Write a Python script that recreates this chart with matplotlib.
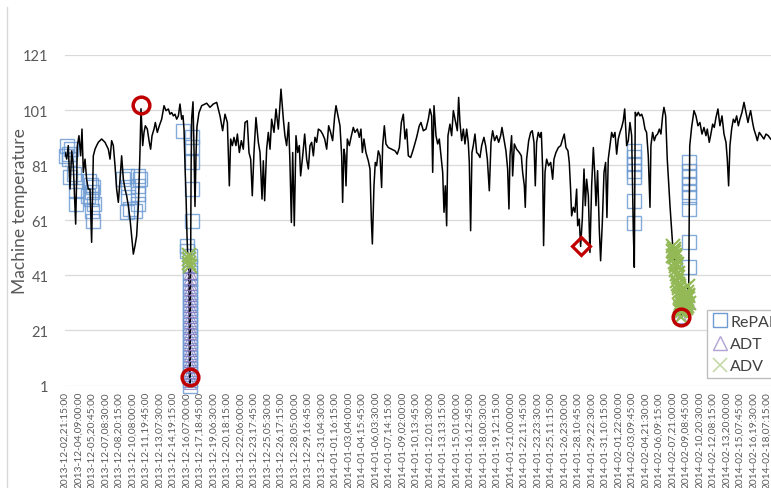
import matplotlib
matplotlib.use("Agg")
import matplotlib.pyplot as plt
from matplotlib.lines import Line2D

plt.rcParams["font.family"] = ["Lato", "DejaVu Sans"]

# sample index (15-minute steps from 2013-12-02 21:15) and machine temperature
line_step = [
    0, 18, 35, 53, 71, 88, 113, 131, 148, 166, 180, 194, 212, 229, 247, 265, 282, 300,
    318, 335, 353, 371, 388, 406, 424, 441, 459, 477, 494, 512, 530, 547, 565, 583, 600,
    618, 636, 653, 671, 689, 706, 724, 742, 759, 777, 794, 805, 823, 837, 851, 872, 893,
    907, 922, 943, 957, 978, 999, 1024, 1049, 1070, 1095, 1112, 1130, 1148, 1165, 1183,
    1201, 1218, 1236, 1250, 1261, 1272, 1282, 1292, 1298, 1305, 1310, 1315, 1319, 1324,
    1330, 1336, 1342, 1356, 1366, 1377, 1388, 1398, 1419, 1448, 1501, 1536, 1571, 1607,
    1624, 1642, 1670, 1695, 1720, 1741, 1755, 1773, 1790, 1811, 1826, 1847, 1868, 1889,
    1907, 1931, 1949, 1967, 1984, 2002, 2023, 2048, 2066, 2087, 2101, 2115, 2136, 2154,
    2172, 2189, 2214, 2235, 2260, 2288, 2313, 2330, 2348, 2369, 2383, 2398, 2412, 2429,
    2447, 2465, 2482, 2496, 2518, 2539, 2560, 2578, 2595, 2613, 2631, 2648, 2666, 2684,
    2708, 2729, 2751, 2772, 2793, 2814, 2835, 2857, 2871, 2892, 2913, 2931, 2941, 2955,
    2966, 2977, 2991, 3012, 3030, 3054, 3072, 3097, 3118, 3135, 3150, 3167, 3188, 3213,
    3231, 3245, 3256, 3273, 3287, 3301, 3319, 3337, 3354, 3365, 3383, 3400, 3425, 3460,
    3496, 3520, 3542, 3563, 3584, 3602, 3619, 3637, 3662, 3690, 3725, 3753, 3771, 3796,
    3824, 3849, 3866, 3884, 3895, 3909, 3930, 3948, 3965, 3983, 4001, 4015, 4029, 4043,
    4057, 4078, 4096, 4114, 4135, 4156, 4170, 4184, 4202, 4220, 4237, 4255, 4272, 4283,
    4297, 4311, 4325, 4343, 4361, 4378, 4396, 4414, 4438, 4456, 4474, 4495, 4513, 4530,
    4551, 4573, 4594, 4615, 4629, 4650, 4671, 4689, 4703, 4714, 4731, 4742, 4760, 4784,
    4813, 4834, 4848, 4866, 4876, 4890, 4912, 4933, 4950, 4968, 4982, 4996, 5014, 5032,
    5046, 5060, 5070, 5085, 5102, 5123, 5145, 5166, 5180, 5201, 5226, 5251, 5272, 5289,
    5307, 5328, 5342, 5356, 5367, 5385, 5402, 5420, 5431, 5448, 5462, 5480, 5498, 5512,
    5526, 5544, 5561, 5579, 5597, 5611, 5625, 5642, 5660, 5674, 5692, 5710, 5727, 5741,
    5755, 5773, 5791, 5808, 5826, 5844, 5861, 5879, 5897, 5914, 5929, 5950, 5967, 5985,
    6003, 6020, 6031, 6041, 6056, 6073, 6091, 6109, 6126, 6144, 6161, 6179, 6197, 6207,
    6225, 6243, 6260, 6278, 6296, 6313, 6331, 6345, 6363, 6380, 6409, 6437, 6445, 6452,
    6459, 6466, 6473, 6480, 6487, 6494, 6501, 6508, 6515, 6522, 6529, 6536, 6543, 6550,
    6557, 6564, 6571, 6578, 6585, 6592, 6599, 6606, 6612, 6618, 6638, 6663, 6684, 6705,
    6726, 6748, 6769, 6790, 6804, 6825, 6839, 6861, 6878, 6896, 6917, 6938, 6960, 6981,
    7002, 7016, 7030, 7044, 7062, 7080, 7097, 7115, 7133, 7150, 7171, 7193, 7214, 7235,
    7249, 7263, 7284, 7298, 7320, 7334, 7355, 7380, 7404, 7426, 7450, 7475,
]
line_temp = [
    85.6, 83.2, 88.1, 72.3, 86.2, 80.8, 59.6, 88.1, 91.7, 84.4, 94.1, 78.4, 83.2, 75.9,
    72.3, 72.3, 53.0, 84.4, 86.8, 88.1, 89.3, 89.9, 90.5, 89.9, 89.3, 88.1, 86.8, 83.2,
    89.9, 88.1, 80.8, 72.3, 67.5, 75.9, 84.4, 75.9, 72.3, 69.9, 66.3, 61.4, 55.4, 48.7,
    51.8, 55.4, 66.3, 85.6, 101.5, 88.1, 92.9, 95.3, 94.1, 89.3, 86.8, 91.7, 94.1, 96.5,
    92.9, 95.3, 97.7, 102.6, 100.8, 101.4, 99.5, 100.1, 98.9, 99.5, 97.7, 98.9, 103.2,
    97.7, 99.0, 94.0, 80.0, 70.0, 56.0, 50.0, 47.0, 46.5, 30.0, 4.0, 1.5, 44.0, 80.0,
    98.0, 104.0, 88.0, 66.0, 85.0, 95.0, 100.0, 102.6, 103.5, 102.0, 103.2, 103.8, 101.4,
    98.9, 93.5, 99.5, 96.5, 73.5, 90.5, 88.1, 91.1, 88.1, 92.3, 85.6, 89.9, 86.8, 96.5,
    97.1, 85.6, 83.2, 69.9, 85.6, 98.3, 89.3, 85.6, 68.7, 82.6, 68.1, 86.8, 92.9, 86.8,
    97.7, 92.9, 101.4, 94.1, 108.6, 97.7, 91.7, 88.1, 96.5, 82.0, 60.2, 85.6, 59.0, 91.7,
    85.6, 88.1, 77.1, 84.4, 92.3, 83.2, 79.6, 88.1, 89.3, 84.4, 91.1, 89.3, 94.1, 93.5,
    92.3, 90.5, 86.8, 95.3, 92.9, 89.9, 98.9, 102.6, 98.9, 95.3, 84.4, 67.5, 86.8, 84.4,
    73.5, 90.5, 88.1, 91.1, 94.7, 92.9, 94.1, 91.1, 94.1, 85.6, 90.5, 85.6, 82.6, 79.6,
    61.4, 52.4, 73.5, 82.0, 80.8, 86.2, 84.4, 72.9, 88.1, 95.3, 88.7, 87.4, 86.8, 86.2,
    85.0, 87.4, 96.5, 99.5, 90.5, 94.1, 84.4, 83.8, 86.8, 91.1, 95.3, 96.5, 93.5, 94.1,
    97.7, 101.4, 98.9, 78.4, 102.6, 91.7, 88.7, 90.5, 84.4, 78.4, 63.9, 73.5, 59.0, 91.7,
    95.9, 91.7, 100.8, 97.1, 93.5, 105.6, 96.5, 89.9, 94.1, 88.7, 94.1, 89.3, 82.0, 57.2,
    85.6, 88.1, 92.3, 85.6, 85.0, 83.8, 88.1, 91.1, 88.1, 83.2, 71.7, 89.3, 93.5, 89.9,
    91.7, 89.3, 91.7, 94.7, 90.5, 86.2, 79.6, 65.1, 84.4, 91.7, 77.1, 88.7, 86.8, 85.6,
    84.4, 78.4, 73.5, 65.7, 83.2, 89.9, 92.9, 93.5, 89.3, 73.5, 89.3, 92.9, 91.1, 92.9,
    79.6, 51.8, 78.4, 83.2, 80.8, 82.0, 75.9, 83.2, 85.6, 87.4, 88.1, 90.5, 92.3, 87.4,
    86.2, 82.0, 72.3, 62.6, 65.7, 63.9, 72.3, 59.0, 61.4, 51.5, 61.4, 79.6, 66.3, 75.9,
    69.9, 49.3, 73.5, 87.4, 78.4, 66.3, 79.0, 57.8, 46.3, 60.2, 78.4, 82.0, 62.0, 83.2,
    88.1, 92.9, 91.1, 92.9, 85.0, 90.5, 92.9, 94.7, 97.1, 101.4, 88.1, 89.9, 96.5, 91.7,
    57.8, 43.9, 100.2, 98.9, 100.2, 98.9, 99.5, 97.7, 94.1, 92.9, 84.4, 65.7, 88.1, 92.9,
    89.9, 91.7, 92.3, 94.1, 92.3, 98.9, 102.0, 98.9, 83.2, 66.3, 51.8, 48.0, 50.5, 46.0,
    48.5, 43.0, 45.0, 39.0, 42.0, 35.0, 37.0, 30.0, 26.0, 31.0, 28.0, 34.0, 29.0, 36.0,
    30.0, 33.0, 29.0, 35.0, 30.0, 37.0, 31.0, 60.0, 88.0, 94.7, 100.8, 98.9, 95.3, 96.5,
    92.3, 94.7, 91.7, 94.1, 89.3, 91.7, 95.9, 94.7, 98.3, 101.4, 95.3, 98.9, 92.3, 89.3,
    83.2, 73.5, 88.1, 94.1, 97.7, 96.5, 98.9, 95.3, 97.7, 100.1, 103.8, 100.1, 96.5,
    98.9, 100.8, 96.5, 94.1, 91.7, 89.9, 92.9, 91.7, 90.5, 92.3, 91.7, 90.5,
]

repad_step = [
    11, 21, 42, 42, 53, 64, 95, 117, 117, 117, 244, 254, 275, 275, 286, 286, 297, 297, 307,
    618, 654, 654, 671, 671, 689, 742, 776, 776, 776, 776, 794,
    1253, 1342, 1342, 1342, 1342, 1342, 1296, 1296, 1324,
    1326, 1326, 1326, 1326, 1326, 1326, 1326, 1326, 1326, 1326, 1326,
    1326, 1326, 1326, 1326, 1326, 1326, 1326, 1326, 1326, 1326, 1326,
    6027, 6027, 6027, 6027, 6027, 6027, 6027,
    6610, 6610, 6610, 6610, 6610, 6610, 6610, 6610, 6610,
]
repad_temp = [
    84.3, 87.9, 85.0, 83.2, 76.6, 86.8, 77.8, 75.2, 71.6, 66.9, 69.9, 75.2, 73.7, 68.7,
    71.2, 64.3, 60.7, 73.0, 66.9,
    76.0, 77.2, 63.9, 73.0, 69.3, 65.1, 64.4, 77.2, 73.5, 70.5, 66.9, 76.0,
    93.5, 91.1, 87.5, 82.0, 72.3, 60.8, 51.7, 49.9, 48.1,
    44.5, 42.0, 39.5, 37.0, 35.0, 33.0, 31.0, 29.0, 27.0, 25.0, 23.0,
    21.0, 19.0, 17.0, 15.0, 13.0, 11.0, 9.0, 7.0, 5.0, 3.0, 1.0,
    86.2, 83.8, 81.4, 79.0, 76.6, 68.1, 60.0,
    82.0, 79.0, 76.6, 74.1, 71.1, 69.3, 65.1, 53.0, 43.9,
]

adt_step = [1324] * 22 + [6522, 6592, 6606]
adt_temp = [
    44, 42, 40, 38, 36, 34, 32, 30, 28, 26, 24, 22, 20, 18, 16, 14, 12, 10, 8, 6, 4, 2,
    26.0, 30.0, 31.0,
]

adv_step = [1310, 1314, 1318, 1322,
            6437, 6441, 6445, 6449, 6452, 6456, 6459, 6463, 6466, 6470, 6473, 6477, 6480,
            6484, 6487, 6491, 6494, 6498, 6501, 6505, 6508, 6512, 6515, 6519, 6522,
            6526, 6529, 6533, 6536, 6540, 6543, 6547, 6550, 6554, 6557, 6561, 6564,
            6568, 6571, 6575, 6578, 6582, 6585, 6589, 6592, 6596, 6599, 6603, 6606]
adv_temp = [48.5, 47.0, 45.5, 44.5,
            51.8, 50.0, 48.0, 49.5, 50.5, 48.0, 46.0, 47.5, 48.5, 45.0, 43.0, 44.5, 45.0,
            41.5, 39.0, 40.5, 42.0, 38.0, 35.0, 36.5, 37.0, 33.0, 30.0, 28.0, 26.0,
            29.0, 31.0, 29.5, 28.0, 31.0, 34.0, 31.5, 29.0, 32.5, 36.0, 33.0, 30.0,
            31.5, 33.0, 31.0, 29.0, 32.0, 35.0, 32.5, 30.0, 33.5, 37.0, 34.0, 31.0]

true_step = [805, 1319, 6522]
true_temp = [102.8, 4.0, 25.8]
diamond_step = [5462]
diamond_temp = [51.5]

tick_labels = [
    "2013-12-02,21:15:00", "2013-12-04,09:00:00", "2013-12-05,20:45:00",
    "2013-12-07,08:30:00", "2013-12-08,20:15:00", "2013-12-10,08:00:00",
    "2013-12-11,19:45:00", "2013-12-13,07:30:00", "2013-12-14,19:15:00",
    "2013-12-16,07:00:00", "2013-12-17,18:45:00", "2013-12-19,06:30:00",
    "2013-12-20,18:15:00", "2013-12-22,06:00:00", "2013-12-23,17:45:00",
    "2013-12-25,05:30:00", "2013-12-26,17:15:00", "2013-12-28,05:00:00",
    "2013-12-29,16:45:00", "2013-12-31,04:30:00", "2014-01-01,16:15:00",
    "2014-01-03,04:00:00", "2014-01-04,15:45:00", "2014-01-06,03:30:00",
    "2014-01-07,14:15:00", "2014-01-09,02:00:00", "2014-01-10,13:45:00",
    "2014-01-12,01:30:00", "2014-01-13,13:15:00", "2014-01-15,01:00:00",
    "2014-01-16,12:45:00", "2014-01-18,00:30:00", "2014-01-19,12:15:00",
    "2014-01-21,00:00:00", "2014-01-22,11:45:00", "2014-01-23,23:30:00",
    "2014-01-25,11:15:00", "2014-01-26,23:00:00", "2014-01-28,10:45:00",
    "2014-01-29,22:30:00", "2014-01-31,10:15:00", "2014-02-01,22:00:00",
    "2014-02-03,09:45:00", "2014-02-04,21:30:00", "2014-02-06,09:15:00",
    "2014-02-07,21:00:00", "2014-02-09,08:45:00", "2014-02-10,20:30:00",
    "2014-02-12,08:15:00", "2014-02-13,20:00:00", "2014-02-15,07:45:00",
    "2014-02-16,19:30:00", "2014-02-18,07:15:00",
]
label_every = 143
y_ticks = [1, 21, 41, 61, 81, 101, 121]

REPAD_C = "#6E9BD3"
ADT_C = "#8A78C0"
ADV_C = "#93B957"
RED = "#C00000"
GRAY = "#595959"

W, H = 771, 489
fig = plt.figure(figsize=(W / 100, H / 100), dpi=100, facecolor="white")
ax = fig.add_axes([65 / W, (H - 386.5) / H, (W - 65) / W, (386.5 - 56) / H])

ax.plot(line_step, line_temp, color="black", lw=1.1, zorder=3)
ax.plot(repad_step, repad_temp, ls="", marker="s", ms=10, mfc="none",
        mec=REPAD_C, mew=1.0, alpha=0.85, zorder=2, clip_on=False)
ax.plot(adt_step, adt_temp, ls="", marker="^", ms=9, mfc="none",
        mec=ADT_C, mew=0.8, alpha=0.8, zorder=4, clip_on=False)
ax.plot(adv_step, adv_temp, ls="", marker="x", ms=10, mec=ADV_C, mew=1.5,
        zorder=5, clip_on=False)
ax.plot(true_step, true_temp, ls="", marker="o", ms=12, mfc="none",
        mec=RED, mew=2.5, zorder=6, clip_on=False)
ax.plot(diamond_step, diamond_temp, ls="", marker="D", ms=9, mfc="none",
        mec=RED, mew=2.3, zorder=6, clip_on=False)

ax.set_xlim(0, 7479)
ax.set_ylim(1, 121)
ax.set_yticks(y_ticks)
ax.set_yticklabels([str(v) for v in y_ticks])
ax.set_xticks([i * label_every for i in range(len(tick_labels))])
ax.set_xticklabels(tick_labels, rotation=90, fontsize=7.3, color=GRAY)
ax.tick_params(axis="x", length=0, pad=4)
ax.tick_params(axis="y", length=0, pad=12, labelsize=10.5, labelcolor=GRAY)
ax.grid(axis="y", color="#D9D9D9", lw=0.9)
ax.set_axisbelow(True)
for side in ["top", "right", "bottom", "left"]:
    ax.spines[side].set_visible(False)

fig.text(20 / W, 1 - 211 / H, "Machine temperature", rotation=90,
         ha="center", va="center", fontsize=12.5, color=GRAY)

# chart area border on the left
fig.add_artist(Line2D([7 / W, 7 / W], [0, 1 - 8 / H], color="#D9D9D9", lw=1))

handles = [
    Line2D([], [], ls="", marker="s", ms=10, mfc="none", mec=REPAD_C, mew=1.0),
    Line2D([], [], ls="", marker="^", ms=10, mfc="none", mec="#B0A3D4", mew=1.0),
    Line2D([], [], ls="", marker="x", ms=10, mec="#C6D9A8", mew=1.2),
]
fig.legend(handles, ["RePAD", "ADT", "ADV"], loc="upper left",
           bbox_to_anchor=(707 / W, 1 - 311 / H), bbox_transform=fig.transFigure,
           borderaxespad=0, fontsize=11.5, frameon=True, fancybox=False,
           edgecolor="#BFBFBF", framealpha=1, labelspacing=0.5,
           handlelength=1.0, handletextpad=0.15, borderpad=0.3,
           labelcolor="#404040")

fig.savefig("out.png", dpi=100, facecolor="white")
